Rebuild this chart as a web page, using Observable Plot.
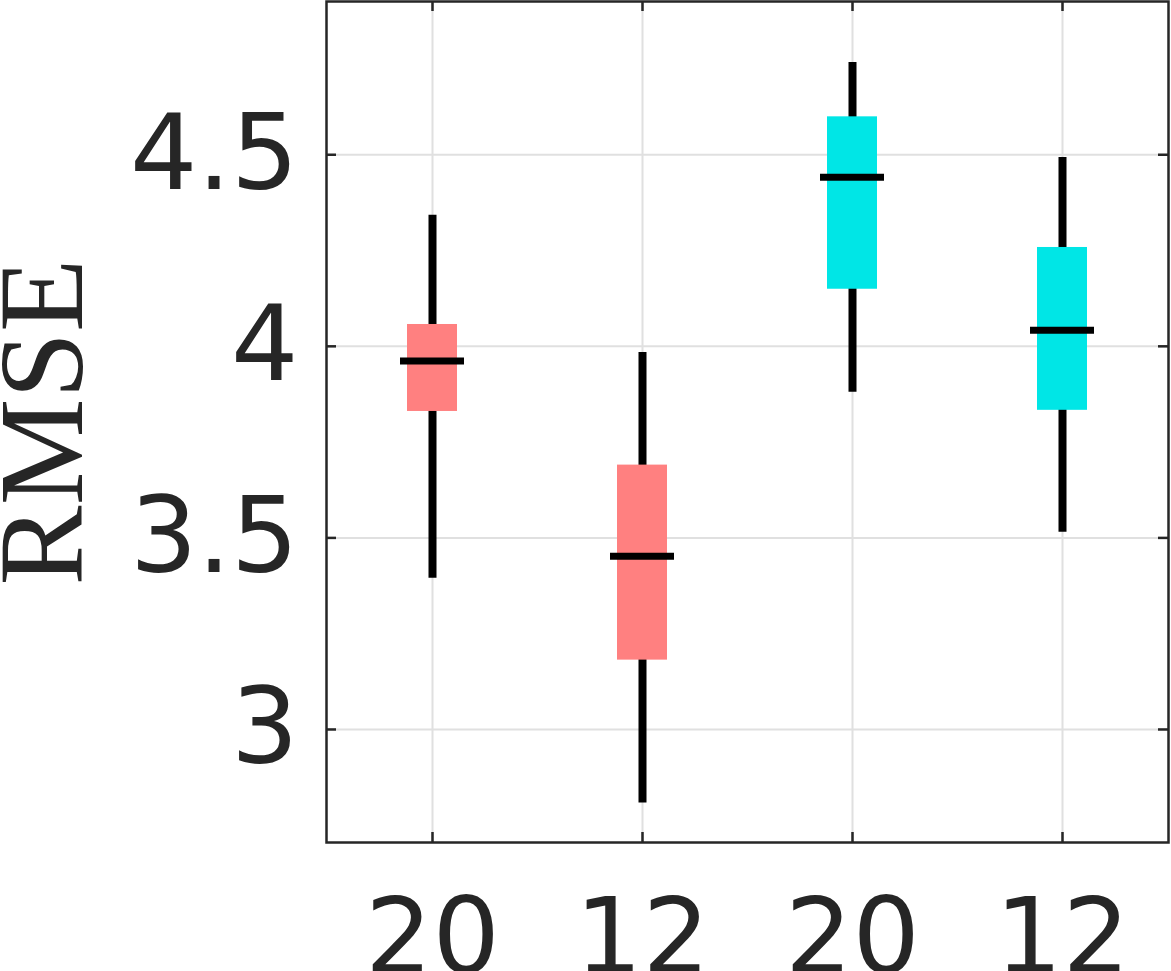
<!DOCTYPE html>
<html>
<head>
<meta charset="utf-8">
<script src="https://cdn.jsdelivr.net/npm/d3@7"></script>
<script src="https://cdn.jsdelivr.net/npm/@observablehq/plot@0.6"></script>
<style>
  html, body { margin: 0; padding: 0; background: #fff; }
  svg { display: block; }
</style>
</head>
<body>
<div id="chart"></div>
<script>
const labels = ["20", "12", "20", "12"];
const colors = ["#ff8080", "#ff8080", "#00e6e6", "#00e6e6"];
const q1 = [3.830, 3.181, 4.149, 3.833];
const q3 = [4.057, 3.690, 4.599, 4.258];
const median = [3.962, 3.452, 4.441, 4.042];
const lowWhisker = [3.395, 2.808, 3.880, 3.515];
const highWhisker = [4.342, 3.984, 4.741, 4.493];
const yTicks = [3, 3.5, 4, 4.5];
const yTickLabels = ["3", "3.5", "4", "4.5"];

const data = labels.map((l, i) => ({
  i, label: l, color: colors[i], q1: q1[i], q3: q3[i], med: median[i], lo: lowWhisker[i], hi: highWhisker[i]
}));

const W = 1171, H = 971;
const mL = 326, mR = 3, mT = 1, mB = 129;
const plotW = W - mL - mR, plotH = H - mT - mB;
const ink = "#262626";

const chart = Plot.plot({
  width: W, height: H,
  marginLeft: mL, marginRight: mR, marginTop: mT, marginBottom: mB,
  style: { fontFamily: "DejaVu Sans", background: "#fff" },
  x: { type: "band", domain: [0, 1, 2, 3], paddingInner: 0.7625, paddingOuter: 0.38125, align: 0.5 },
  y: { domain: [2.705, 4.90] },
  marks: [
    Plot.gridY(yTicks, { stroke: "#e0e0e0", strokeOpacity: 1, strokeWidth: 2 }),
    Plot.gridX([0, 1, 2, 3], { stroke: "#e0e0e0", strokeOpacity: 1, strokeWidth: 2 }),
    // inward ticks
    Plot.tickY(yTicks, { y: d => d, stroke: ink, strokeWidth: 2.5, insetRight: plotW - 10 }),
    Plot.tickY(yTicks, { y: d => d, stroke: ink, strokeWidth: 2.5, insetLeft: plotW - 10 }),
    Plot.tickX([0, 1, 2, 3], { x: d => d, stroke: ink, strokeWidth: 2.5, insetTop: plotH - 10 }),
    Plot.tickX([0, 1, 2, 3], { x: d => d, stroke: ink, strokeWidth: 2.5, insetBottom: plotH - 10 }),
    // whiskers
    Plot.ruleX(data, { x: "i", y1: "lo", y2: "hi", stroke: "#000", strokeWidth: 8 }),
    // boxes
    Plot.barY(data, { x: "i", y1: "q1", y2: "q3", fill: "color" }),
    // medians
    Plot.tickY(data, { x: "i", y: "med", stroke: "#000", strokeWidth: 7, insetLeft: -7, insetRight: -7 }),
    Plot.frame({ stroke: ink, strokeWidth: 2.5 }),
    Plot.axisY(yTicks, { anchor: "left", tickSize: 0, tickPadding: 28, tickFormat: (d, k) => yTickLabels[k], fontSize: 106, fill: ink, label: null }),
    Plot.axisX([0, 1, 2, 3], { anchor: "bottom", tickSize: 0, tickPadding: 55, tickFormat: d => labels[d], fontSize: 106, fill: ink, label: null }),
    Plot.text(["RMSE"], { frameAnchor: "left", dx: -283, rotate: -90, text: d => d, textAnchor: "middle", fontSize: 120, fontFamily: "Liberation Serif", fill: ink, lineAnchor: "middle" })
  ]
});
document.getElementById("chart").appendChild(chart);
</script>
</body>
</html>
